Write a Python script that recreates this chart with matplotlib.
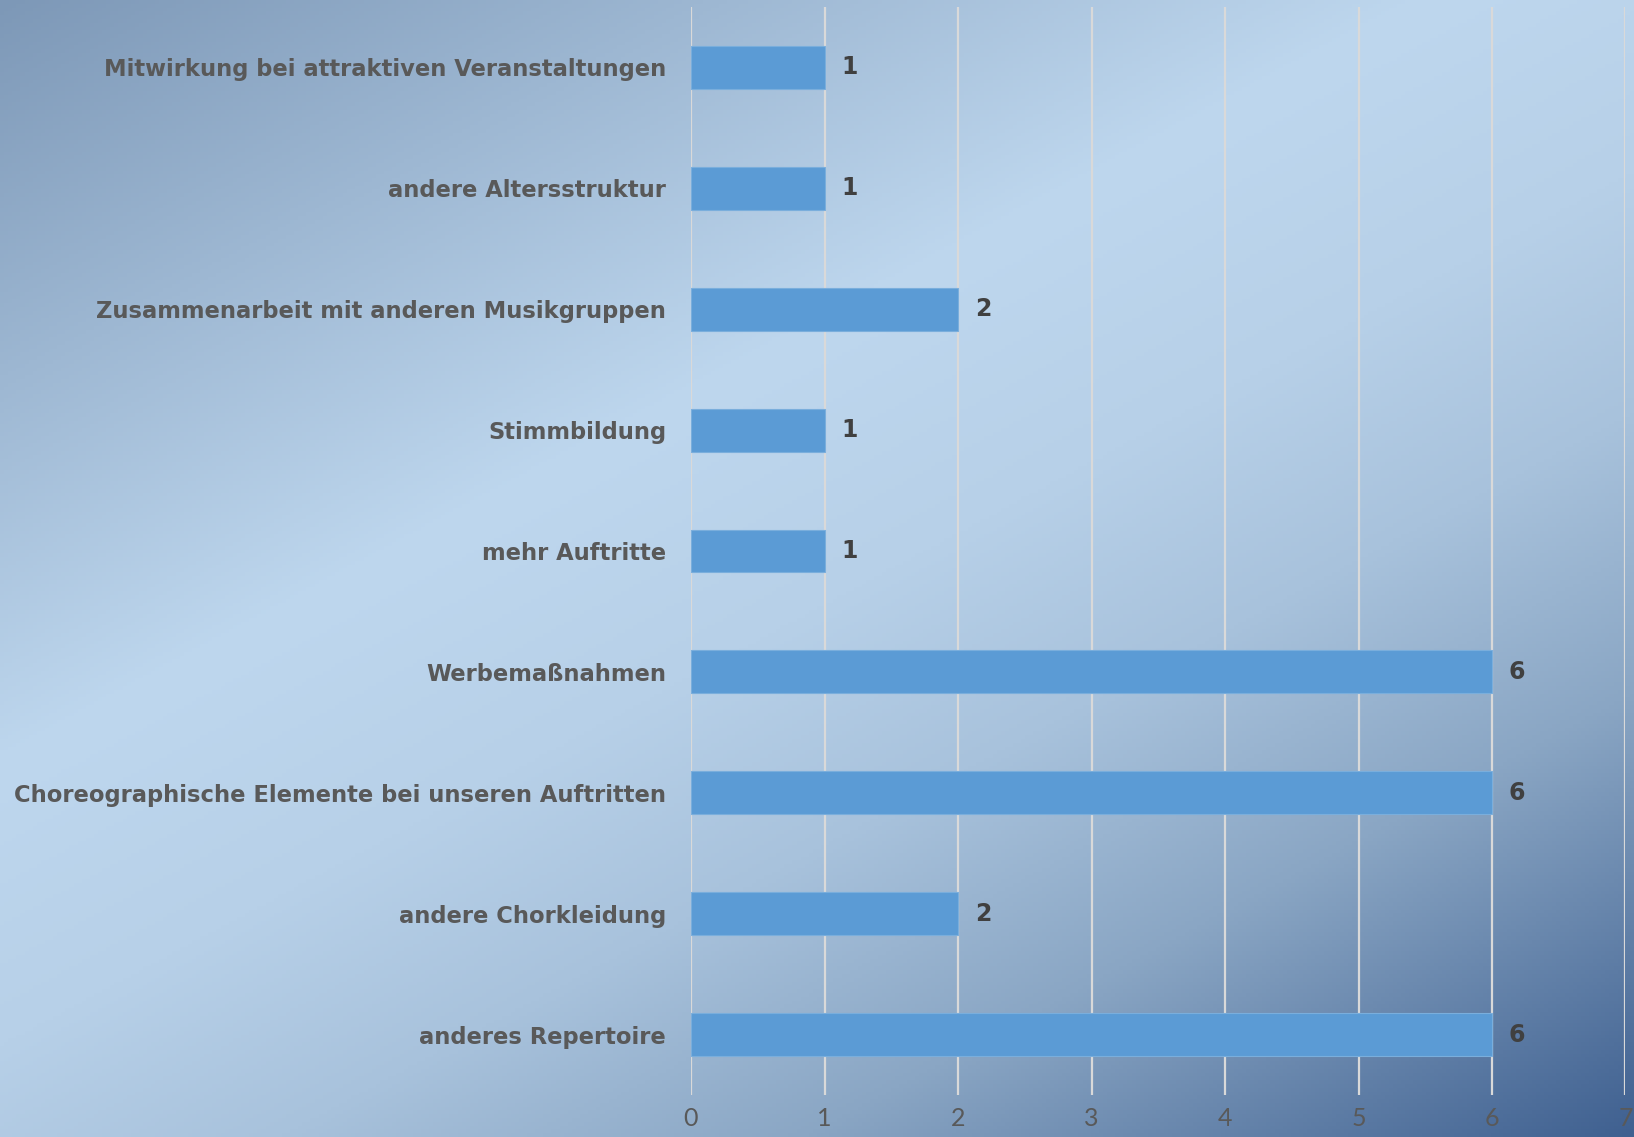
import numpy as np
import matplotlib
matplotlib.use("Agg")
import matplotlib.pyplot as plt

# data, top to bottom as shown
categories = [
    "Mitwirkung bei attraktiven Veranstaltungen",
    "andere Altersstruktur",
    "Zusammenarbeit mit anderen Musikgruppen",
    "Stimmbildung",
    "mehr Auftritte",
    "Werbemaßnahmen",
    "Choreographische Elemente bei unseren Auftritten",
    "andere Chorkleidung",
    "anderes Repertoire",
]
counts = [1, 1, 2, 1, 1, 6, 6, 2, 6]
x_ticks = [0, 1, 2, 3, 4, 5, 6, 7]

W, H = 1634, 1137
fig = plt.figure(figsize=(W / 100, H / 100), dpi=100)

# diagonal gradient background
xx, yy = np.meshgrid(np.linspace(0, 1, 400), np.linspace(0, 1, 300))
t = (xx + 1.3 * yy) / 2.3
stops = [0.0, 0.38, 0.52, 0.64, 0.78, 1.0]
cols = np.array([(125, 152, 183), (190, 215, 238), (183, 208, 232),
                 (168, 194, 220), (138, 166, 196), (63, 96, 144)]) / 255
img = np.dstack([np.interp(t, stops, cols[:, i]) for i in range(3)])
bg = fig.add_axes([0, 0, 1, 1], zorder=0)
bg.imshow(img, aspect="auto", extent=[0, 1, 0, 1], origin="upper")
bg.axis("off")

ax = fig.add_axes([691 / W, 1 - 1095 / H, (1625.5 - 691) / W, (1095 - 7) / H], zorder=1)
ax.patch.set_alpha(0)

y = np.arange(len(categories))
bars = ax.barh(y, counts, height=0.355, color="#5b9bd5", edgecolor="#7aaedc",
               linewidth=0.8, zorder=3)

for b, v in zip(bars, counts):
    ax.annotate(str(v), (b.get_width(), b.get_y() + b.get_height() / 2),
                xytext=(12, 0), textcoords="offset points", ha="left", va="center",
                fontsize=17, fontweight="bold", color="#404040", family="DejaVu Sans")

ax.set_xlim(0, 7)
ax.set_ylim(8.5, -0.5)
ax.set_xticks(x_ticks)
ax.set_yticks(y)
ax.set_yticklabels(categories, fontsize=16.3, fontweight="bold", color="#595959",
                   family="DejaVu Sans")
ax.set_xticklabels([str(v) for v in x_ticks], fontsize=18, color="#595959",
                   family="Lato")
ax.tick_params(axis="y", length=0, pad=18)
ax.tick_params(axis="x", length=0, pad=9)
ax.grid(axis="x", color="#d9d9d9", linewidth=1.6, zorder=1)
for s in ax.spines.values():
    s.set_visible(False)

fig.savefig("out.png", dpi=100)
